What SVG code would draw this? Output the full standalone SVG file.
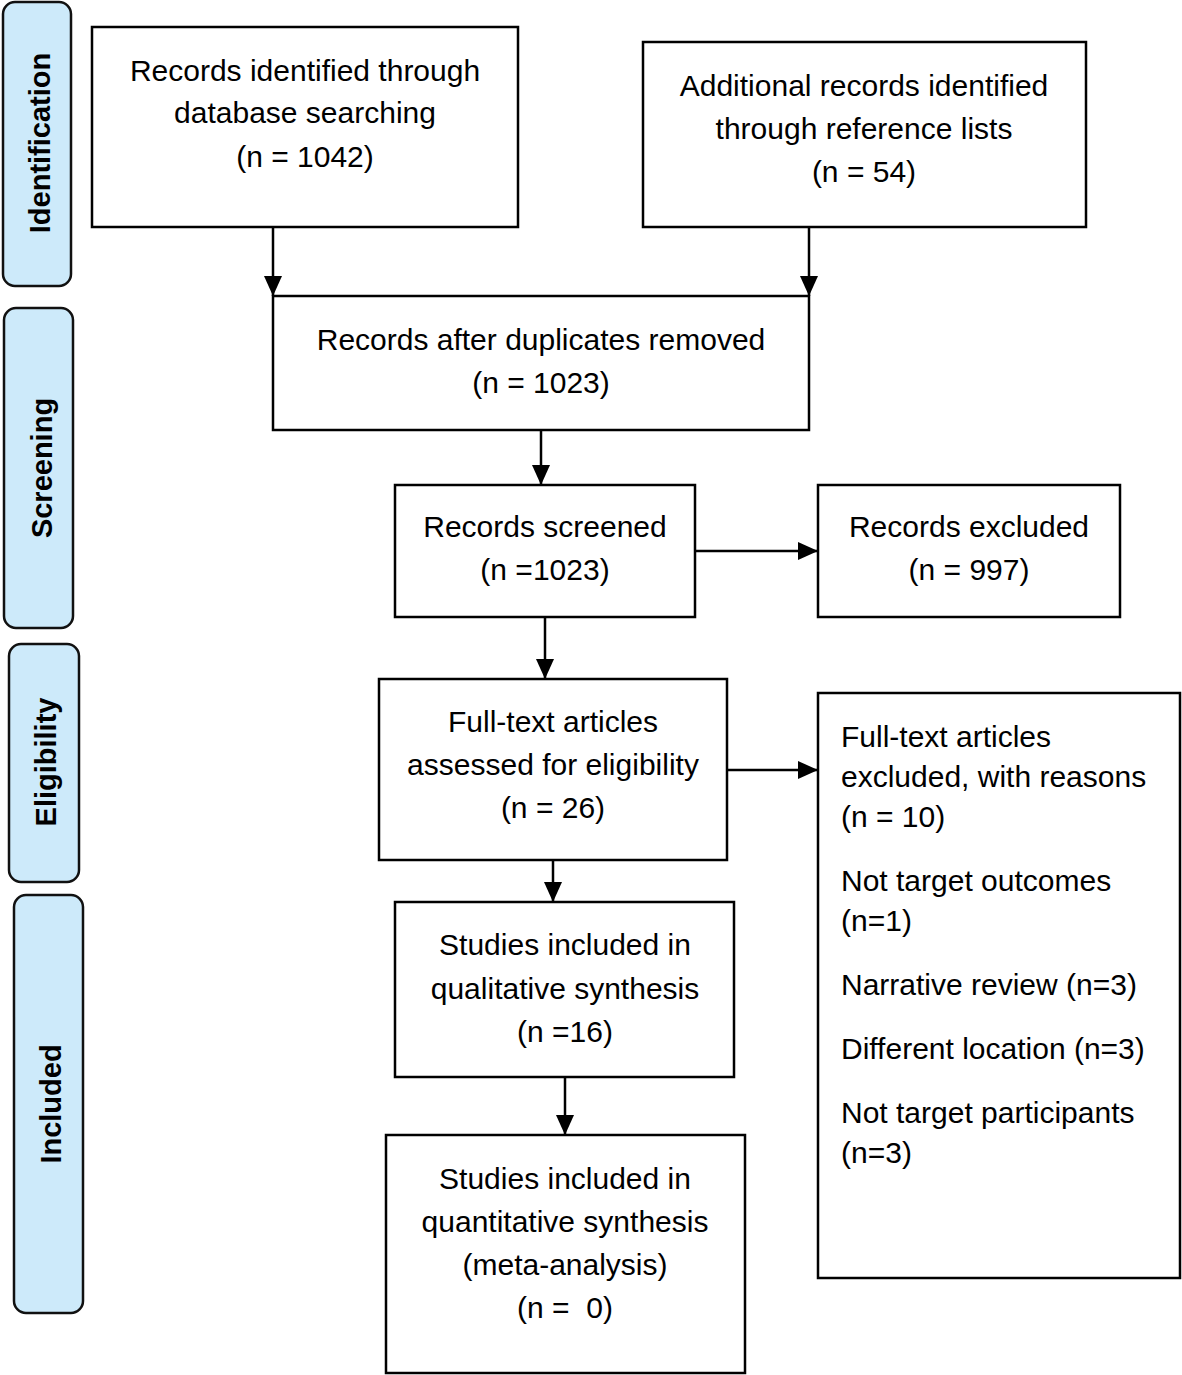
<svg xmlns="http://www.w3.org/2000/svg" width="1182" height="1375" viewBox="0 0 1182 1375">
  <style>
    .box { fill: #ffffff; stroke: #000000; stroke-width: 2.5; }
    .phase { fill: #cdeafa; stroke: #111111; stroke-width: 2.5; }
    .t { font-family: "Liberation Sans", Arial, sans-serif; font-size: 30px; fill: #000000; text-anchor: middle; }
    .tl { font-family: "Liberation Sans", Arial, sans-serif; font-size: 30px; fill: #000000; text-anchor: start; }
    .ph { font-family: "Liberation Sans", Arial, sans-serif; font-size: 29px; font-weight: bold; fill: #000000; text-anchor: middle; }
    .con { stroke: #000000; stroke-width: 2.5; fill: none; marker-end: url(#arrow); }
  </style>
  <defs>
    <marker id="arrow" markerUnits="userSpaceOnUse" markerWidth="20" markerHeight="18" refX="20" refY="9" viewBox="0 0 20 18" orient="auto">
      <path d="M0,0 L20,9 L0,18 Z" fill="#000000"/>
    </marker>
  </defs>
  <rect width="1182" height="1375" fill="#ffffff"/>

  <g id="phase-identification">
    <rect class="phase" x="3" y="2" width="68" height="284" rx="12"/>
    <text class="ph" transform="translate(40,143) rotate(-90)" y="10">Identification</text>
  </g>
  <g id="phase-screening">
    <rect class="phase" x="4" y="308" width="69" height="320" rx="12"/>
    <text class="ph" transform="translate(42,468) rotate(-90)" y="10">Screening</text>
  </g>
  <g id="phase-eligibility">
    <rect class="phase" x="9" y="644" width="70" height="238" rx="12"/>
    <text class="ph" transform="translate(46,762) rotate(-90)" y="10">Eligibility</text>
  </g>
  <g id="phase-included">
    <rect class="phase" x="14" y="895" width="69" height="418" rx="12"/>
    <text class="ph" transform="translate(51,1104) rotate(-90)" y="10">Included</text>
  </g>

  <g id="connectors">
    <path class="con" d="M273,227 V296"/>
    <path class="con" d="M809,227 V296"/>
    <path class="con" d="M541,430 V485"/>
    <path class="con" d="M695,551 H818"/>
    <path class="con" d="M545,617 V679"/>
    <path class="con" d="M727,770 H818"/>
    <path class="con" d="M553,860 V902"/>
    <path class="con" d="M565,1077 V1135"/>
  </g>

  <g id="n-database">
    <rect class="box" x="92" y="27" width="426" height="200"/>
    <text class="t" x="305" y="81">Records identified through</text>
    <text class="t" x="305" y="123">database searching</text>
    <text class="t" x="305" y="167">(n = 1042)</text>
  </g>
  <g id="n-additional">
    <rect class="box" x="643" y="42" width="443" height="185"/>
    <text class="t" x="864" y="96">Additional records identified</text>
    <text class="t" x="864" y="139">through reference lists</text>
    <text class="t" x="864" y="182">(n = 54)</text>
  </g>
  <g id="n-duplicates">
    <rect class="box" x="273" y="296" width="536" height="134"/>
    <text class="t" x="541" y="350">Records after duplicates removed</text>
    <text class="t" x="541" y="393">(n = 1023)</text>
  </g>
  <g id="n-screened">
    <rect class="box" x="395" y="485" width="300" height="132"/>
    <text class="t" x="545" y="537">Records screened</text>
    <text class="t" x="545" y="580">(n =1023)</text>
  </g>
  <g id="n-excluded">
    <rect class="box" x="818" y="485" width="302" height="132"/>
    <text class="t" x="969" y="537">Records excluded</text>
    <text class="t" x="969" y="580">(n = 997)</text>
  </g>
  <g id="n-fulltext">
    <rect class="box" x="379" y="679" width="348" height="181"/>
    <text class="t" x="553" y="732">Full-text articles</text>
    <text class="t" x="553" y="775">assessed for eligibility</text>
    <text class="t" x="553" y="818">(n = 26)</text>
  </g>
  <g id="n-fulltext-excluded">
    <rect class="box" x="818" y="693" width="362" height="585"/>
    <text class="tl" x="841" y="747">Full-text articles</text>
    <text class="tl" x="841" y="787">excluded, with reasons</text>
    <text class="tl" x="841" y="827">(n = 10)</text>
    <text class="tl" x="841" y="891">Not target outcomes</text>
    <text class="tl" x="841" y="931">(n=1)</text>
    <text class="tl" x="841" y="995">Narrative review (n=3)</text>
    <text class="tl" x="841" y="1059">Different location (n=3)</text>
    <text class="tl" x="841" y="1123">Not target participants</text>
    <text class="tl" x="841" y="1163">(n=3)</text>
  </g>
  <g id="n-qualitative">
    <rect class="box" x="395" y="902" width="339" height="175"/>
    <text class="t" x="565" y="955">Studies included in</text>
    <text class="t" x="565" y="999">qualitative synthesis</text>
    <text class="t" x="565" y="1042">(n =16)</text>
  </g>
  <g id="n-quantitative">
    <rect class="box" x="386" y="1135" width="359" height="238"/>
    <text class="t" x="565" y="1189">Studies included in</text>
    <text class="t" x="565" y="1232">quantitative synthesis</text>
    <text class="t" x="565" y="1275">(meta-analysis)</text>
    <text class="t" x="565" y="1318">(n =&#160; 0)</text>
  </g>
</svg>
